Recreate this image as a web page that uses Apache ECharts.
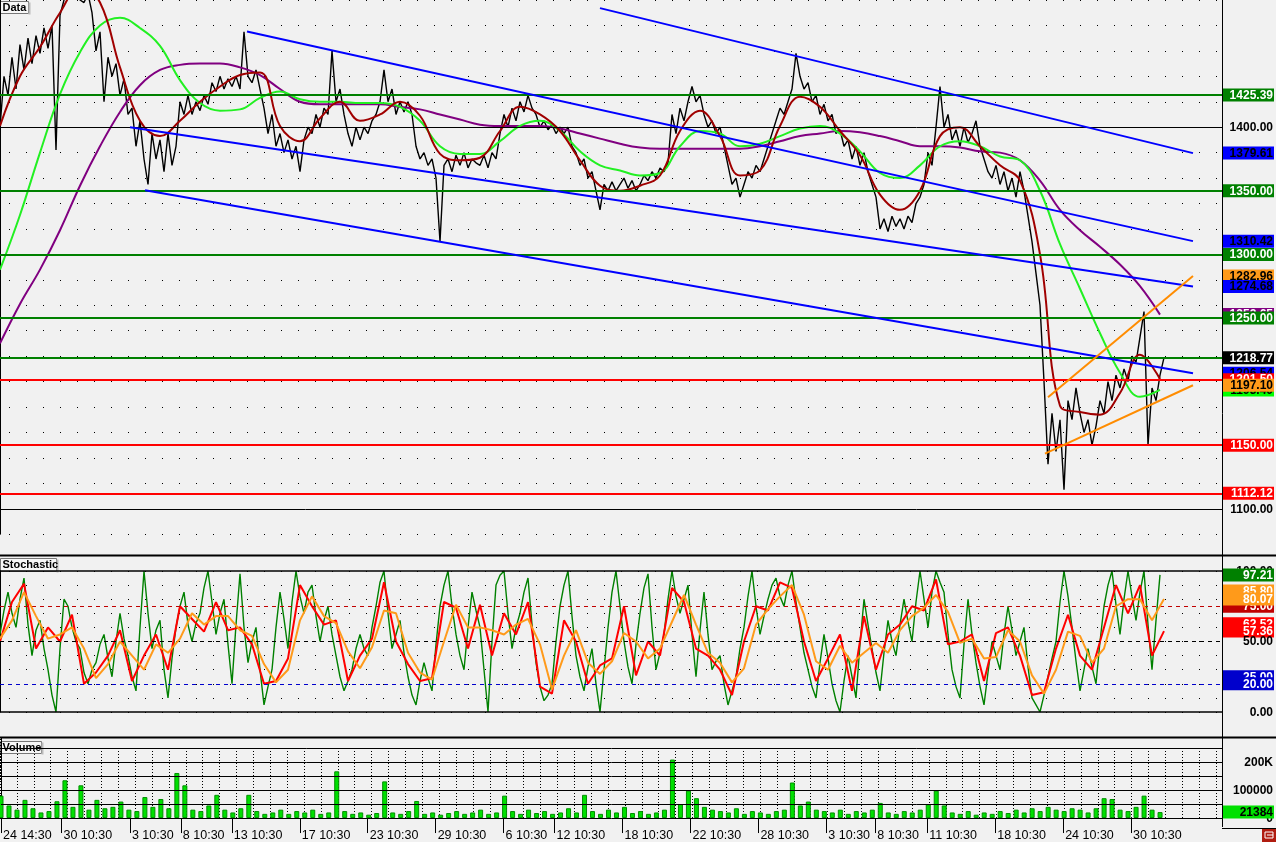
<!DOCTYPE html>
<html><head><meta charset="utf-8">
<script src="https://cdn.jsdelivr.net/npm/echarts@6/dist/echarts.min.js"></script>
<style>html,body{margin:0;padding:0;background:#f1f1f1;}#c{width:1276px;height:842px;}</style>
</head><body><div id="c"></div>
<script>
// ---------- DATA ----------
// price, one value per bar
const price = [
1400,1440,1425,1455,1430,1465,1445,1470,1450,1472,
1458,1478,1462,1480,1382,1488,1500,1505,1510,1505,
1500,1498,1505,1490,1460,1475,1420,1455,1440,1450,
1425,1438,1410,1415,1385,1405,1375,1355,1395,1375,
1390,1365,1395,1370,1385,1420,1410,1425,1410,1420,
1413,1425,1418,1435,1428,1440,1430,1438,1432,1440,
1430,1475,1440,1435,1445,1430,1415,1395,1410,1385,
1395,1380,1390,1375,1385,1365,1390,1400,1395,1410,
1400,1415,1410,1460,1420,1430,1410,1395,1385,1400,
1390,1400,1395,1405,1410,1420,1445,1420,1430,1410,
1420,1412,1420,1410,1385,1375,1380,1370,1375,1360,
1310,1370,1375,1365,1378,1370,1380,1368,1375,1372,
1370,1378,1368,1380,1375,1395,1410,1400,1415,1405,
1420,1412,1425,1415,1410,1400,1405,1398,1402,1395,
1400,1395,1400,1385,1380,1370,1375,1360,1365,1350,
1335,1355,1350,1357,1350,1355,1360,1352,1358,1350,
1355,1362,1358,1365,1360,1368,1365,1372,1410,1395,
1415,1405,1420,1432,1420,1425,1410,1400,1405,1395,
1400,1385,1370,1355,1360,1345,1355,1365,1360,1370,
1365,1375,1385,1395,1405,1415,1410,1420,1430,1458,
1440,1430,1435,1420,1425,1410,1418,1405,1410,1395,
1398,1385,1390,1375,1385,1370,1380,1365,1355,1345,
1320,1328,1318,1330,1322,1328,1320,1330,1325,1340,
1345,1355,1380,1370,1400,1432,1400,1410,1390,1398,
1385,1400,1388,1395,1405,1385,1375,1365,1360,1370,
1355,1365,1350,1360,1345,1365,1350,1330,1310,1285,
1260,1200,1135,1175,1145,1170,1115,1185,1170,1195,
1175,1160,1170,1150,1165,1185,1175,1200,1185,1205,
1195,1210,1200,1220,1215,1235,1255,1150,1195,1185,
1205,1218.77
];
// moving averages, one value every 5 bars
const maFast = [1401,1440,1463,1490,1510,1498,1447,1405,1393,1405,1420,1432,1441,1443,1401,1389,1407,1420,1405,1410,
1420,1409,1379,1374,1376,1397,1416,1410,1397,1374,1354,1350,1354,1362,1397,1413,1393,1362,1366,1401,
1424,1416,1397,1378,1347,1335,1350,1393,1400,1385,1370,1358,1300,1181,1176,1174,1191,1221,1202];
const maMid = [1288,1331,1380,1426,1459,1480,1486,1478,1464,1437,1419,1413,1414,1423,1428,1422,1420,1420,1419,1419,
1416,1405,1385,1379,1379,1389,1401,1405,1397,1381,1370,1366,1362,1364,1385,1397,1395,1385,1387,1393,
1399,1401,1395,1381,1364,1360,1370,1385,1389,1385,1377,1374,1350,1308,1273,1238,1207,1188,1193.40];
const maSlow = [1230,1261,1288,1319,1354,1385,1412,1433,1445,1449,1450,1450,1447,1441,1430,1420,1418,1418,1418,1418,
1416,1414,1410,1406,1402,1401,1401,1401,1399,1395,1391,1387,1384,1383,1383,1383,1383,1383,1385,1389,
1393,1395,1397,1396,1393,1389,1385,1385,1384,1381,1380,1374,1358,1335,1319,1306,1292,1275,1252.65];
// trend channel (blue) and wedge (orange): [bar, price] end points
const channelLines = [
  [[150, 1493.6], [298.25, 1379.61]],
  [[61.75, 1475.2], [298.25, 1310.42]],
  [[32.5, 1400.0], [298.25, 1274.68]],
  [[36.25, 1350.4], [298.25, 1206.54]]
];
const wedgeLines = [
  [[262, 1187.6], [298.25, 1282.96]],
  [[261.25, 1143.4], [298.25, 1197.10]]
];
const greenLevels = [1425.39, 1350.00, 1300.00, 1250.00, 1218.77];
const redLevels = [1201.50, 1150.00, 1112.12];
const priceRefs = [1400, 1100];
// stochastic %K, one value per bar
const stochK = [
55,72,85,70,60,80,95,62,40,58,65,45,30,12,0,45,80,75,60,50,
45,28,20,30,35,48,55,38,25,50,70,52,40,25,15,60,100,70,45,58,
65,30,10,38,60,75,85,62,50,63,70,88,100,78,55,70,80,48,20,62,
98,60,35,50,60,30,5,18,30,60,85,66,45,78,100,82,70,85,90,68,
50,65,75,55,40,25,15,22,30,45,55,45,40,60,75,92,100,70,45,55,
65,42,25,12,5,22,35,24,15,48,75,90,100,75,55,40,30,60,85,72,
60,30,0,50,90,97,100,70,45,60,70,85,95,62,35,18,8,12,20,50,
75,90,100,68,40,25,15,32,45,20,0,30,60,85,100,75,50,32,20,48,
70,88,98,60,30,42,55,80,100,82,70,80,90,55,25,58,85,55,30,36,
40,20,5,15,25,45,60,82,100,75,55,68,80,90,95,82,75,90,100,78,
60,42,30,18,10,35,55,38,20,8,0,22,40,25,10,48,80,62,45,28,
15,42,65,50,40,62,80,64,50,78,100,80,60,85,100,92,85,55,30,18,
10,48,80,55,35,18,5,28,50,40,30,55,75,58,40,50,60,32,10,5,
0,12,25,38,50,78,100,82,60,36,15,30,45,32,20,50,75,90,100,76,
55,80,100,82,65,85,100,62,30,65,97.21];
// stochastic %D (red) and slow %D (orange), one value every 3 bars
const stochD = [
50,78,91,45,60,50,69,20,28,40,
58,22,40,55,30,75,66,57,78,58,
60,48,20,22,38,90,75,62,65,22,
40,52,92,50,34,22,24,78,74,45,
76,40,70,55,78,18,13,65,50,20,
33,38,75,26,50,40,88,78,45,40,
30,12,50,75,72,92,88,50,22,38,
55,15,68,30,55,62,75,72,94,48,
50,55,22,56,60,40,12,14,45,69,
40,30,60,90,70,90,40,57.36];
const stochSlow = [
52,65,85,68,52,55,60,45,24,34,
50,40,30,48,42,52,70,62,68,68,
58,54,34,21,30,65,82,68,63,43,
31,46,72,70,42,28,23,50,76,60,
60,58,55,62,66,48,16,40,58,35,
27,36,56,50,38,45,64,83,62,42,
35,21,31,62,73,82,90,69,36,30,
47,35,42,49,42,58,68,74,83,71,
49,52,38,39,58,50,26,13,30,57,
54,35,45,75,80,80,65,80.07];
const stochExtra = [85.80, 62.52];
const stochLevels = {upper: 75, mid: 50, lower: 20, lowerTag: 25};
// volume, one value every 2 bars
const volume = [
80000,45000,30000,65000,35000,20000,25000,60000,135000,40000,
117000,30000,65000,35000,40000,59000,30000,25000,75000,40000,
68000,35000,161000,117000,30000,25000,45000,83000,30000,20000,
35000,83000,25000,15000,20000,30000,15000,25000,20000,30000,
15000,20000,167000,25000,15000,20000,12000,18000,131000,20000,
15000,25000,61000,15000,20000,12000,18000,25000,15000,20000,
30000,15000,20000,80000,25000,15000,30000,18000,25000,15000,
20000,35000,20000,83000,25000,15000,30000,20000,40000,18000,
25000,15000,20000,30000,209000,50000,98000,71000,40000,30000,
25000,20000,35000,15000,25000,20000,15000,25000,30000,127000,
45000,59000,30000,25000,20000,30000,15000,25000,20000,30000,
54000,20000,15000,25000,20000,30000,49000,98000,45000,20000,
15000,25000,12000,20000,15000,25000,18000,30000,20000,35000,
25000,40000,30000,25000,35000,30000,20000,35000,71000,68000,
30000,25000,40000,80000,30000,21384];
const volLevels = [50000, 100000, 150000, 200000, 250000];
const volTicks = [0,10000,20000,30000,40000,50000,60000,70000,80000,90000,100000,110000,120000,130000,140000,150000,160000,170000,180000,190000,200000,210000,220000,230000,240000,250000,260000,270000,280000];
// time axis
const tickLabels = ['24 14:30','30 10:30','3 10:30','8 10:30','13 10:30','17 10:30','23 10:30','29 10:30','6 10:30','12 10:30','18 10:30','22 10:30','28 10:30','3 10:30','8 10:30','11 10:30','18 10:30','24 10:30','30 10:30'];
const tickBars = [0,15.125,32.25,45,57.75,74.75,91.75,108.75,125.75,138.5,155.5,172.5,189.5,206.5,218.75,231.75,248.75,265.75,282.75];

// ---------- CHART ----------
const FONT = 'Liberation Sans';
const XMAX = 305.5;
const pair = (arr, step) => arr.map((v, i) => [i * step, v]);
const last = a => a[a.length - 1];

function tag(v, text, bg, fg) {
  return {
    yAxis: v,
    lineStyle: {color: 'rgba(0,0,0,0)', width: 0},
    label: {
      show: true, position: 'end', distance: 1,
      formatter: '{t|' + text + '}',
      rich: {t: {width: 50, height: 12, lineHeight: 12, align: 'right',
        backgroundColor: bg || 'transparent', color: fg || '#000',
        fontFamily: FONT, fontWeight: 'bold', fontSize: 12, padding: [1, 1, 0, 0]}}
    }
  };
}
function lvl(v, color, width, type) {
  return {yAxis: v, lineStyle: {color: color, width: width, type: type || 'solid'}, label: {show: false}};
}
const ML = data => ({silent: true, symbol: ['none', 'none'], animation: false, data: data});
const fx = v => v.toFixed(2);

const priceLevelLines = [
  ...priceRefs.map(v => lvl(v, '#000', 1)),
  ...greenLevels.map(v => lvl(v, '#008000', 2)),
  ...redLevels.map(v => lvl(v, '#ff0000', 2))
];
const ORANGE = '#ff9a1a';
const priceTags = [
  tag(last(maSlow), fx(last(maSlow)), '#800080', '#fff'),
  tag(last(maMid), fx(last(maMid)), '#00ff00', '#000'),
  tag(wedgeLines[0][1][1], fx(wedgeLines[0][1][1]), ORANGE, '#000'),
  ...channelLines.map(s => tag(s[1][1], fx(s[1][1]), '#0000ff', '#000')),
  ...priceRefs.map(v => tag(v, fx(v), null, '#000')),
  ...greenLevels.slice(0, 4).map(v => tag(v, fx(v), '#008000', '#fff')),
  tag(last(price), fx(last(price)), '#000', '#fff'),
  ...redLevels.map(v => tag(v, fx(v), '#ff0000', '#fff')),
  tag(wedgeLines[1][1][1], fx(wedgeLines[1][1][1]), ORANGE, '#000')
];
const stochLines = [
  lvl(100, '#000', 1.5), lvl(0, '#000', 1.5),
  lvl(stochLevels.upper, '#c00000', 1, [4, 4]),
  lvl(stochLevels.mid, '#000', 1, [4, 4]),
  lvl(stochLevels.lower, '#0000cc', 1, [4, 4])
];
const stochTags = [
  tag(100, '100.00', null, '#000'),
  tag(last(stochK), fx(last(stochK)), '#008000', '#fff'),
  tag(stochExtra[0], fx(stochExtra[0]), ORANGE, '#fff'),
  tag(stochLevels.upper, fx(stochLevels.upper), '#c00000', '#fff'),
  tag(last(stochSlow), fx(last(stochSlow)), ORANGE, '#fff'),
  tag(stochExtra[1], fx(stochExtra[1]), '#ff0000', '#fff'),
  tag(last(stochD), fx(last(stochD)), '#ff0000', '#fff'),
  tag(stochLevels.mid, fx(stochLevels.mid), null, '#000'),
  tag(stochLevels.lowerTag, fx(stochLevels.lowerTag), '#0000cc', '#fff'),
  tag(stochLevels.lower, fx(stochLevels.lower), '#0000cc', '#fff'),
  tag(0, '0.00', null, '#000')
];
const volLines = volLevels.map(v => lvl(v, '#000', 1));
const volTags = [
  tag(200000, '200K', null, '#000'),
  tag(100000, '100000', null, '#000'),
  tag(0, '0', null, '#000'),
  tag(last(volume), String(last(volume)), '#00e000', '#000')
];

const dotSplit = {show: true, lineStyle: {color: '#000', width: 1, type: [1, 16], dashOffset: 8}};
const rightAxis = (grid, min, max, interval, extra) => Object.assign({
  type: 'value', gridIndex: grid, position: 'right', min: min, max: max, interval: interval,
  axisLine: {show: true, lineStyle: {color: '#000', width: 1}},
  axisTick: {show: true, inside: true, length: 3, lineStyle: {color: '#000'}},
  axisLabel: {show: false}, splitLine: dotSplit
}, extra || {});

function header(x, y, w, h, text) {
  return {type: 'group', left: x, top: y, children: [
    {type: 'rect', shape: {x: 0, y: 0, width: w, height: h}, style: {fill: '#f7f7f7', stroke: '#777', lineWidth: 1}},
    {type: 'line', shape: {x1: w + 1, y1: 1, x2: w + 1, y2: h + 1}, style: {stroke: '#bbb', lineWidth: 2}},
    {type: 'text', x: 2, y: 1, style: {text: text, fill: '#000', font: 'bold 11px "' + FONT + '"'}}
  ]};
}

const option = {
  animation: false,
  backgroundColor: '#f1f1f1',
  grid: [
    {left: 0, right: 54, top: -8, height: 542.2},
    {left: 0, right: 54, top: 571, height: 141},
    {left: 0, right: 54, top: 738, height: 89},
    {left: -8, right: 54, top: 748, height: 70}
  ],
  xAxis: [
    {type: 'value', gridIndex: 0, min: 0, max: XMAX, show: false},
    {type: 'value', gridIndex: 1, min: 0, max: XMAX, show: false},
    {type: 'value', gridIndex: 2, min: 0, max: XMAX,
      axisLine: {show: true, lineStyle: {color: '#000', width: 1}},
      axisTick: {show: true, customValues: tickBars, length: 15, lineStyle: {color: '#000'}},
      axisLabel: {show: true, customValues: tickBars, align: 'left', verticalAlign: 'top', margin: 2,
        padding: [0, 0, 0, 2], color: '#000', fontFamily: FONT, fontSize: 12.5,
        formatter: v => { const i = tickBars.indexOf(v); return i >= 0 ? tickLabels[i] : ''; }},
      splitLine: {show: false}},
    {type: 'value', gridIndex: 3, min: 0, max: 307.5, interval: 4.25,
      axisLine: {show: false}, axisTick: {show: false}, axisLabel: {show: false},
      splitLine: {show: true, lineStyle: {color: '#000', width: 1, type: [1, 2]}}}
  ],
  yAxis: [
    rightAxis(0, 1080, 1500, 20),
    rightAxis(1, 0, 100, 10),
    {type: 'value', gridIndex: 2, position: 'right', min: -32000, max: 286000,
      axisLine: {show: true, lineStyle: {color: '#000'}},
      axisTick: {show: true, inside: true, length: 3, customValues: volTicks, lineStyle: {color: '#000'}},
      axisLabel: {show: false}, splitLine: {show: false}},
    {type: 'value', gridIndex: 3, min: 0, max: 1, show: false}
  ],
  series: [
    {type: 'line', xAxisIndex: 3, yAxisIndex: 3, data: [], silent: true},
    // price panel
    {type: 'line', xAxisIndex: 0, yAxisIndex: 0, data: pair(price, 1), symbol: 'none', silent: true,
      lineStyle: {color: '#000', width: 1.4}, z: 2},
    {type: 'line', xAxisIndex: 0, yAxisIndex: 0, data: [], silent: true, z: 3, markLine: ML(priceLevelLines)},
    {type: 'line', xAxisIndex: 0, yAxisIndex: 0, data: pair(maSlow, 5), symbol: 'none', smooth: 0.4, silent: true,
      lineStyle: {color: '#800080', width: 2}, z: 4},
    {type: 'line', xAxisIndex: 0, yAxisIndex: 0, data: pair(maMid, 5), symbol: 'none', smooth: 0.4, silent: true,
      lineStyle: {color: '#22f022', width: 2}, z: 4},
    {type: 'line', xAxisIndex: 0, yAxisIndex: 0, data: pair(maFast, 5), symbol: 'none', smooth: 0.4, silent: true,
      lineStyle: {color: '#a00000', width: 2}, z: 4},
    ...channelLines.map(s => ({type: 'line', xAxisIndex: 0, yAxisIndex: 0, data: s, symbol: 'none', silent: true,
      lineStyle: {color: '#0000ff', width: 2}, z: 5})),
    ...wedgeLines.map(s => ({type: 'line', xAxisIndex: 0, yAxisIndex: 0, data: s, symbol: 'none', silent: true,
      lineStyle: {color: '#ff8c00', width: 2}, z: 5})),
    {type: 'line', xAxisIndex: 0, yAxisIndex: 0, data: [], silent: true, z: 6, markLine: ML(priceTags)},
    // stochastic panel
    {type: 'line', xAxisIndex: 1, yAxisIndex: 1, data: [], silent: true, z: 2, markLine: ML(stochLines)},
    {type: 'line', xAxisIndex: 1, yAxisIndex: 1, data: pair(stochK, 1), symbol: 'none', silent: true,
      lineStyle: {color: '#008000', width: 1.4}, z: 3},
    {type: 'line', xAxisIndex: 1, yAxisIndex: 1, data: pair(stochD, 3), symbol: 'none', silent: true,
      lineStyle: {color: '#ff0000', width: 2}, z: 4},
    {type: 'line', xAxisIndex: 1, yAxisIndex: 1, data: pair(stochSlow, 3), symbol: 'none', silent: true,
      lineStyle: {color: '#ff9a1a', width: 2}, z: 5},
    {type: 'line', xAxisIndex: 1, yAxisIndex: 1, data: [], silent: true, z: 6, markLine: ML(stochTags)},
    // volume panel
    {type: 'line', xAxisIndex: 2, yAxisIndex: 2, data: [], silent: true, z: 2, markLine: ML(volLines)},
    {type: 'bar', xAxisIndex: 2, yAxisIndex: 2, data: pair(volume, 2), barWidth: 5, silent: true,
      itemStyle: {color: '#00e000', borderColor: '#009000', borderWidth: 1}, z: 3},
    {type: 'line', xAxisIndex: 2, yAxisIndex: 2, data: [], silent: true, z: 6, markLine: ML(volTags)}
  ],
  graphic: [
    {type: 'line', shape: {x1: 1222.5, y1: 0, x2: 1222.5, y2: 827}, style: {stroke: '#000', lineWidth: 1}, z: 10},
    {type: 'line', shape: {x1: 0, y1: 555.5, x2: 1276, y2: 555.5}, style: {stroke: '#000', lineWidth: 2}, z: 10},
    {type: 'line', shape: {x1: 0, y1: 737.5, x2: 1276, y2: 737.5}, style: {stroke: '#000', lineWidth: 2}, z: 10},
    {type: 'line', shape: {x1: 1222, y1: 828.5, x2: 1276, y2: 828.5}, style: {stroke: '#000', lineWidth: 1}, z: 10},
    header(0, 0, 28, 12, 'Data'),
    header(0, 557, 56, 13, 'Stochastic'),
    header(0, 740, 41, 12, 'Volume'),
    {type: 'group', left: 1262, top: 828, children: [
      {type: 'rect', shape: {x: 0, y: 0, width: 14, height: 14}, style: {fill: '#b01c10'}},
      {type: 'rect', shape: {x: 3, y: 4, width: 8, height: 6}, style: {fill: 'none', stroke: '#fff', lineWidth: 1}},
      {type: 'line', shape: {x1: 5, y1: 7, x2: 11, y2: 7}, style: {stroke: '#fff', lineWidth: 1}}
    ]}
  ]
};
const chart = echarts.init(document.getElementById('c'), null, {renderer: 'canvas'});
chart.setOption(option);
</script>
</body></html>
